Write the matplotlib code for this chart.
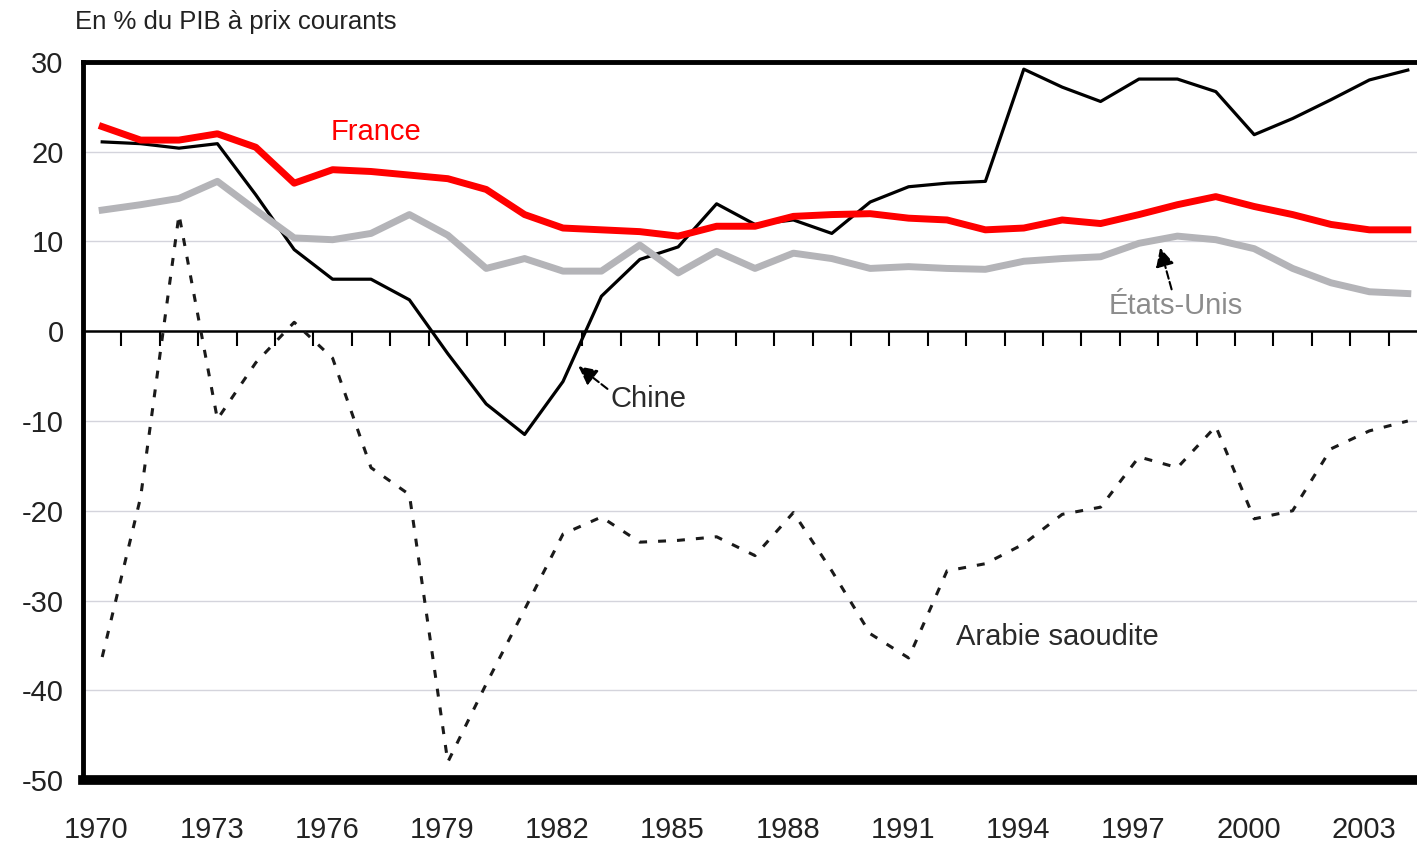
import matplotlib
matplotlib.use("Agg")
import matplotlib.pyplot as plt
import numpy as np

plt.rcParams["font.family"] = ["Liberation Sans", "DejaVu Sans"]

# Solde (en % du PIB à prix courants), 1970-2004
years = list(range(1970, 2005))
france = [22.8, 21.3, 21.3, 22.0, 20.5, 16.5, 18.0, 17.8, 17.4, 17.0,
          15.8, 13.0, 11.5, 11.3, 11.1, 10.6, 11.7, 11.7, 12.8, 13.0,
          13.1, 12.6, 12.4, 11.3, 11.5, 12.4, 12.0, 13.0, 14.1, 15.0,
          13.9, 13.0, 11.9, 11.3, 11.3]
etats_unis = [13.5, 14.1, 14.8, 16.7, 13.5, 10.4, 10.2, 10.9, 13.0, 10.7,
              7.0, 8.1, 6.7, 6.7, 9.6, 6.5, 8.9, 7.0, 8.7, 8.1,
              7.0, 7.2, 7.0, 6.9, 7.8, 8.1, 8.3, 9.8, 10.6, 10.2,
              9.2, 7.0, 5.4, 4.4, 4.2]
chine = [21.1, 20.9, 20.4, 20.9, 15.2, 9.1, 5.8, 5.8, 3.5, -2.5,
         -8.1, -11.5, -5.6, 3.9, 8.0, 9.4, 14.2, 11.9, 12.4, 10.9,
         14.4, 16.1, 16.5, 16.7, 29.2, 27.2, 25.6, 28.1, 28.1, 26.7,
         21.9, 23.7, 25.8, 28.0, 29.1]
arabie = [-36.3, -18.5, 13.0, -9.8, -3.5, 1.0, -3.0, -15.2, -18.2, -48.0,
          -39.3, -31.0, -22.6, -20.7, -23.5, -23.3, -22.9, -25.0, -20.2, -26.7,
          -33.7, -36.4, -26.7, -25.9, -23.7, -20.4, -19.6, -14.0, -15.2, -10.6,
          -20.9, -20.0, -13.1, -11.1, -10.0]

y_ticks = [30, 20, 10, 0, -10, -20, -30, -40, -50]
y_grid = [20, 10, -10, -20, -30, -40]
year_labels = years[::3]

W, H = 1417, 847
fig = plt.figure(figsize=(W / 100, H / 100), dpi=100)
ax = fig.add_axes([83 / W, 67 / H, (1427 - 83) / W, 718 / H])

x = np.arange(len(years))
ax.set_xlim(-0.5, len(years) - 0.5)
ax.set_ylim(-50, 30)

for g in y_grid:
    ax.axhline(g, color="#d4d4dc", lw=1.0, zorder=1)

ax.plot(x, arabie, color="#1a1a1a", lw=2.2, ls=(0, (2.6, 3.6)), zorder=2)
ax.plot(x, chine, color="black", lw=2.3, zorder=3)
ax.plot(x, etats_unis, color="#b4b4b8", lw=5, solid_joinstyle="round", zorder=4)
ax.plot(x, france, color="#ff0000", lw=5, solid_joinstyle="round", zorder=5)

# frame
ax.spines["right"].set_visible(False)
ax.spines["left"].set_linewidth(3.5)
ax.spines["top"].set_linewidth(3.5)
ax.spines["bottom"].set_linewidth(7)

ax.set_yticks(y_ticks)
ax.set_yticklabels([str(v) if v >= 0 else "-" + str(-v) for v in y_ticks])
ax.tick_params(axis="y", length=0, pad=14, labelsize=21, labelcolor="#222222")

ax.set_xticks([years.index(y) - 0.15 for y in year_labels])
ax.set_xticklabels([str(y) for y in year_labels])
ax.tick_params(axis="x", length=0, pad=26, labelsize=21, labelcolor="#222222")

# zero line with tick marks between categories, pointing down
zero_pos = (0 - (-50)) / 80
sec = ax.secondary_xaxis(zero_pos)
for sp in sec.spines.values():
    sp.set_linewidth(1.8)
sec.set_xticks(np.arange(0.5, len(years) - 1, 1.0))
sec.set_xticklabels([])
sec.tick_params(axis="x", which="both", direction="in", length=11, width=1.5,
                labeltop=False, labelbottom=False)

# series labels
ax.text(7.14, 22.2, "France", color="#ff0000", fontsize=21, ha="center", va="center")
ax.text(24.87, -34.1, "Arabie saoudite", color="#2a2a2a", fontsize=21, ha="center", va="center")
ax.annotate("Chine", xy=(12.4, -3.9), xytext=(13.23, -7.6), color="#2a2a2a",
            fontsize=21, ha="left", va="center",
            arrowprops=dict(arrowstyle="-|>", color="black", lw=1.5, ls="--",
                            mutation_scale=28, shrinkA=0, shrinkB=0,
                            relpos=(0.0, 0.8)))
ax.annotate("États-Unis", xy=(27.55, 9.3), xytext=(27.97, 2.8), color="#8c8c8c",
            fontsize=21, ha="center", va="center",
            arrowprops=dict(arrowstyle="-|>", color="black", lw=1.5, ls="--",
                            mutation_scale=28, shrinkA=0, shrinkB=0,
                            relpos=(0.5, 0.5)))

fig.text(75 / W, 1 - 22 / H, "En % du PIB à prix courants", fontsize=18.5,
         color="#222222", ha="left", va="center")

fig.savefig("out.png", dpi=100)
